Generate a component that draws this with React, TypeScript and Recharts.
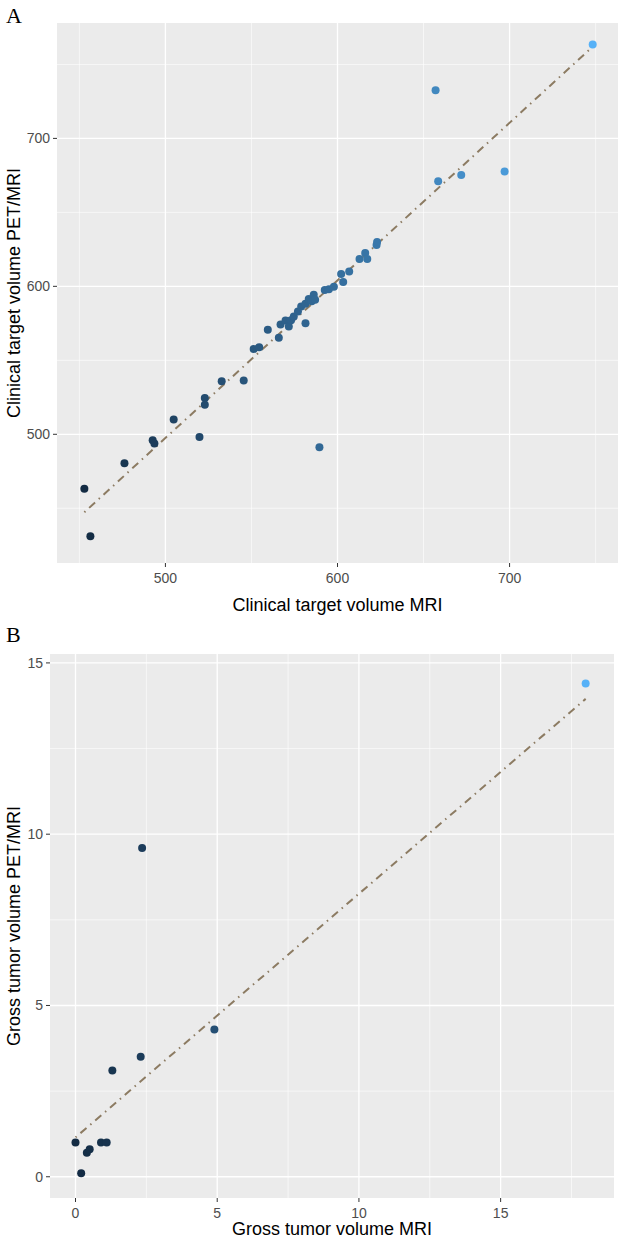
import React from "react";
import {
  ScatterChart,
  Scatter,
  XAxis,
  YAxis,
  CartesianGrid,
} from "recharts";

// Panel A: clinical target volume
const ctvMri = [
  452.9, 456.4, 476.2, 492.6, 493.6, 504.8, 519.8, 522.9, 522.9, 532.7, 545.5,
  551.3, 554.5, 559.5, 565.9, 566.9, 569.8, 571.7, 573, 574.6, 577, 578.9,
  581.4, 581.4, 583.3, 585, 586.2, 587, 589.5, 592.6, 595, 597.9, 602.1, 603.3,
  606.8, 612.8, 616.1, 617.3, 622.7, 623, 657, 658.5, 671.9, 697.1, 748.3,
];
const ctvPetMri = [
  463.2, 431, 480.5, 495.9, 493.7, 510, 498.2, 524.6, 519.9, 535.9, 536.4,
  557.6, 558.8, 570.6, 565.2, 574.2, 576.9, 572.9, 577, 579.6, 583, 586.3,
  588.2, 575.1, 591.5, 590, 594.4, 591, 491.2, 597.6, 598, 599.8, 608.4, 603,
  610.1, 618.5, 622.5, 618.4, 628, 630, 732.5, 671, 675.2, 677.6, 763.5,
];
const ctvFitX = [452.9, 748.3];
const ctvFitY = [447.3, 762];
const ctvMajor = [500, 600, 700];
const ctvMinor = [450, 550, 650, 750];

// Panel B: gross tumor volume
const gtvMri = [0, 0.2, 0.4, 0.5, 0.9, 1.1, 1.3, 2.3, 2.35, 4.9, 18.0];
const gtvPetMri = [1.0, 0.1, 0.7, 0.8, 1.0, 1.0, 3.1, 3.5, 9.6, 4.3, 14.4];
const gtvFitX = [0, 18.0];
const gtvFitY = [1.15, 13.95];
const gtvMajor = [0, 5, 10, 15];
const gtvMinor = [2.5, 7.5, 12.5, 17.5];

const LOW = [0x13, 0x2b, 0x43];
const HIGH = [0x56, 0xb1, 0xf7];

function shade(t: number) {
  const c = LOW.map((l, i) => Math.round(l + (HIGH[i] - l) * t));
  return `rgb(${c[0]},${c[1]},${c[2]})`;
}

const zip = (xs: number[], ys: number[]) => xs.map((x, i) => ({ x, y: ys[i] }));

const font = "'Liberation Sans', Arial, sans-serif";
const tickStyle = { fill: "#4D4D4D", fontSize: 14, fontFamily: font };
const titleStyle = { fill: "#000", fontSize: 18, fontFamily: font, textAnchor: "middle" as const };

function dot(min: number, max: number) {
  return (p: any) => {
    const t = (p.payload.x - min) / (max - min);
    return <circle cx={p.cx} cy={p.cy} r={4} fill={shade(t)} />;
  };
}

const noDot = () => <g />;

type PanelProps = {
  height: number;
  margin: { top: number; right: number; bottom: number; left: number };
  yWidth: number;
  xHeight: number;
  points: { x: number; y: number }[];
  fit: { x: number; y: number }[];
  xDomain: [number, number];
  yDomain: [number, number];
  major: number[];
  minorX: number[];
  minorY: number[];
  xTitle: string;
  yTitle: string;
  xTitleOffset: number;
};

const Panel: React.FC<PanelProps> = (p) => {
  const xs = p.points.map((d) => d.x);
  const min = Math.min(...xs);
  const max = Math.max(...xs);
  return (
    <ScatterChart width={623} height={p.height} margin={p.margin}>
      <CartesianGrid
        fill="#EBEBEB"
        stroke="#FFFFFF"
        strokeWidth={0.6}
        horizontalValues={p.minorY}
        verticalValues={p.minorX}
      />
      <CartesianGrid
        stroke="#FFFFFF"
        strokeWidth={1.3}
        horizontalValues={p.major}
        verticalValues={p.major}
      />
      <XAxis
        type="number"
        dataKey="x"
        domain={p.xDomain}
        allowDataOverflow
        ticks={p.major}
        height={p.xHeight}
        axisLine={false}
        tickLine={{ stroke: "#333333" }}
        tickSize={4}
        tickMargin={6}
        tick={tickStyle}
        label={{ value: p.xTitle, position: "insideBottom", offset: p.xTitleOffset, style: titleStyle }}
      />
      <YAxis
        type="number"
        dataKey="y"
        domain={p.yDomain}
        allowDataOverflow
        ticks={p.major}
        width={p.yWidth}
        axisLine={false}
        tickLine={{ stroke: "#333333" }}
        tickSize={4}
        tickMargin={3}
        tick={tickStyle}
        label={{ value: p.yTitle, angle: -90, position: "insideLeft", offset: 14, style: titleStyle }}
      />
      <Scatter
        data={p.fit}
        line={{ stroke: "#8C7B62", strokeWidth: 2, strokeDasharray: "1.5 5 8 5" }}
        shape={noDot}
        isAnimationActive={false}
      />
      <Scatter data={p.points} shape={dot(min, max)} isAnimationActive={false} />
    </ScatterChart>
  );
};

const letter: React.CSSProperties = {
  position: "absolute",
  left: 6,
  fontFamily: "'Liberation Serif', 'Times New Roman', serif",
  fontSize: 22,
  color: "#000",
};

export default function App() {
  return (
    <div style={{ position: "absolute", left: 0, top: 0, width: 623, height: 1239, background: "#fff" }}>
      <div style={{ ...letter, top: 3 }}>A</div>
      <div style={{ position: "absolute", left: 0, top: 0 }}>
        <Panel
          height={620}
          margin={{ top: 23, right: 5, bottom: 0, left: 0 }}
          yWidth={57}
          xHeight={57}
          points={zip(ctvMri, ctvPetMri)}
          fit={zip(ctvFitX, ctvFitY)}
          xDomain={[437, 763]}
          yDomain={[413, 778]}
          major={ctvMajor}
          minorX={ctvMinor}
          minorY={ctvMinor}
          xTitle="Clinical target volume MRI"
          yTitle="Clinical target volume PET/MRI"
          xTitleOffset={9}
        />
      </div>
      <div style={{ ...letter, top: 622 }}>B</div>
      <div style={{ position: "absolute", left: 0, top: 620 }}>
        <Panel
          height={619}
          margin={{ top: 34, right: 9, bottom: 0, left: 0 }}
          yWidth={50}
          xHeight={41}
          points={zip(gtvMri, gtvPetMri)}
          fit={zip(gtvFitX, gtvFitY)}
          xDomain={[-0.9, 19.0]}
          yDomain={[-0.62, 15.26]}
          major={gtvMajor}
          minorX={gtvMinor}
          minorY={gtvMinor.slice(0, 3)}
          xTitle="Gross tumor volume MRI"
          yTitle="Gross tumor volume PET/MRI"
          xTitleOffset={4}
        />
      </div>
    </div>
  );
}
